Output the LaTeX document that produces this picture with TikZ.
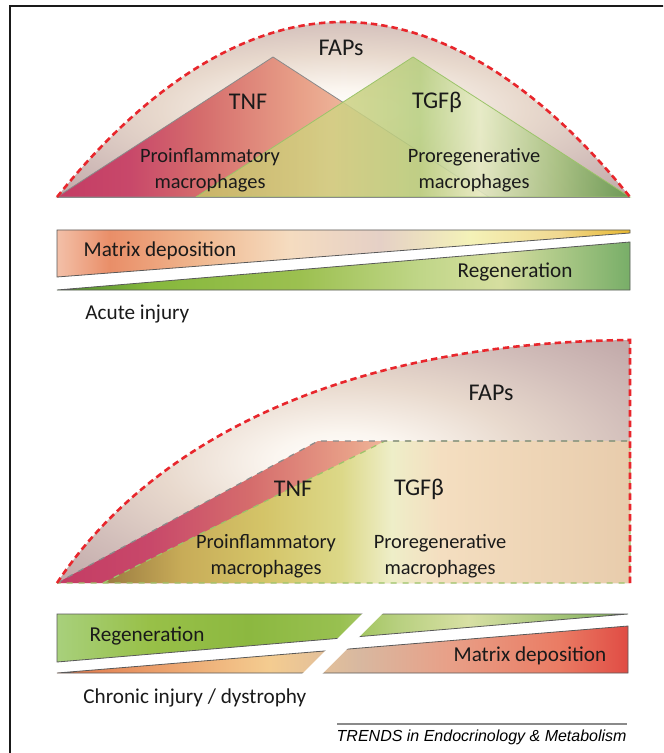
\documentclass[tikz,border=0pt]{standalone}
\usepackage{fontspec}
\setmainfont{Carlito}
\newfontfamily\trendsfont{Liberation Sans}
\usetikzlibrary{calc}
\definecolor{fibred}{HTML}{E8262C}
\definecolor{fibink}{HTML}{1A1A1A}
\definecolor{fibgrey}{HTML}{8A8A8A}
\definecolor{fibgreen}{HTML}{9CC46A}
\definecolor{fibfapdk}{HTML}{C3ABAB}
\definecolor{fibfapmd}{HTML}{D2BEBA}
\definecolor{fibfaplt}{HTML}{E8D9CD}
\definecolor{fibfapwh}{HTML}{FBF6F0}
% TNF
\definecolor{fibtnfa}{HTML}{C43C64}
\definecolor{fibtnfb}{HTML}{C8486A}
\definecolor{fibtnfc}{HTML}{D56C6C}
\definecolor{fibtnfd}{HTML}{E8A088}
\definecolor{fibtnfe}{HTML}{F5CFB0}
\definecolor{fibtnff}{HTML}{F8DCC4}
% TGF beta
\definecolor{fibtgfa}{HTML}{C8C068}
\definecolor{fibtgfb}{HTML}{D2D284}
\definecolor{fibtgfc}{HTML}{B6CE7E}
\definecolor{fibtgfd}{HTML}{E6ECC4}
\definecolor{fibtgfe}{HTML}{A2C07A}
\definecolor{fibtgff}{HTML}{5E9648}
% chronic TGF beta
\definecolor{fibchra}{HTML}{9A7A40}
\definecolor{fibchrb}{HTML}{C8AC58}
\definecolor{fibchrc}{HTML}{D4C468}
\definecolor{fibchrd}{HTML}{DCD888}
\definecolor{fibchre}{HTML}{EEEEC8}
\definecolor{fibchrf}{HTML}{F4DEC0}
\definecolor{fibchrg}{HTML}{E8CCAC}

\pgfdeclareradialshading{fibfapshade}{\pgfpoint{0bp}{0bp}}{%
  color(0bp)=(white); color(6bp)=(fibfapwh); color(16bp)=(fibfaplt);
  color(26bp)=(fibfapmd); color(34bp)=(fibfapdk); color(50bp)=(fibfapdk)}
\pgfdeclarehorizontalshading{fibtnfshade}{100bp}{%
  color(0bp)=(fibtnfa); color(25bp)=(fibtnfa); color(33.4bp)=(fibtnfb);
  color(41.5bp)=(fibtnfc); color(53.1bp)=(fibtnfd); color(64.7bp)=(fibtnfe);
  color(75bp)=(fibtnff); color(100bp)=(fibtnff)}
\pgfdeclarehorizontalshading{fibtgfshade}{100bp}{%
  color(0bp)=(fibtgfa); color(25bp)=(fibtgfa); color(40.4bp)=(fibtgfb);
  color(50.8bp)=(fibtgfc); color(57.7bp)=(fibtgfd); color(66.9bp)=(fibtgfe);
  color(75bp)=(fibtgff); color(100bp)=(fibtgff)}
\pgfdeclarehorizontalshading{fibtnfband}{100bp}{%
  color(0bp)=(fibtnfa); color(25bp)=(fibtnfa); color(33.1bp)=(fibtnfb);
  color(41.8bp)=(fibtnfc); color(50.6bp)=(fibtnfd); color(56.7bp)=(fibtnfe);
  color(75bp)=(fibtnff); color(100bp)=(fibtnff)}
\pgfdeclarehorizontalshading{fibchrshade}{100bp}{%
  color(0bp)=(fibchra); color(25bp)=(fibchra); color(32.5bp)=(fibchrb);
  color(40.1bp)=(fibchrc); color(47.6bp)=(fibchrd); color(52.4bp)=(fibchre);
  color(57.1bp)=(fibchrf); color(75bp)=(fibchrg); color(100bp)=(fibchrg)}
\pgfdeclarehorizontalshading{fibmatacute}{100bp}{%
  rgb(0bp)=(.953,.753,.659); rgb(25bp)=(.953,.753,.659); rgb(29.6bp)=(.914,.557,.408);
  rgb(37.5bp)=(.941,.722,.565); rgb(45.3bp)=(.961,.863,.753); rgb(53.2bp)=(.898,.816,.776);
  rgb(61bp)=(.957,.949,.722); rgb(68.9bp)=(.941,.847,.565); rgb(75bp)=(.910,.722,.188);
  rgb(100bp)=(.910,.722,.188)}
\pgfdeclarehorizontalshading{fibregacute}{100bp}{%
  rgb(0bp)=(.306,.541,.173); rgb(25bp)=(.306,.541,.173); rgb(33.1bp)=(.525,.722,.235);
  rgb(46.2bp)=(.612,.753,.314); rgb(56.7bp)=(.753,.839,.533); rgb(63.7bp)=(.839,.871,.627);
  rgb(75bp)=(.471,.682,.408); rgb(100bp)=(.471,.682,.408)}
\pgfdeclarehorizontalshading{fibregchron}{100bp}{%
  rgb(0bp)=(.659,.816,.486); rgb(25bp)=(.659,.816,.486); rgb(33.1bp)=(.596,.753,.282);
  rgb(41.8bp)=(.549,.722,.251); rgb(49.7bp)=(.596,.753,.314); rgb(54.9bp)=(.722,.816,.502);
  rgb(61bp)=(.847,.878,.643); rgb(68.9bp)=(.643,.769,.471); rgb(75bp)=(.502,.690,.345);
  rgb(100bp)=(.502,.690,.345)}
\pgfdeclarehorizontalshading{fibmatchron}{100bp}{%
  rgb(0bp)=(.878,.455,.282); rgb(25bp)=(.878,.455,.282); rgb(33.1bp)=(.918,.612,.408);
  rgb(43.6bp)=(.957,.800,.565); rgb(51.4bp)=(.847,.722,.627); rgb(59.3bp)=(.910,.627,.533);
  rgb(68.9bp)=(.918,.486,.392); rgb(75bp)=(.878,.298,.267); rgb(100bp)=(.878,.298,.267)}

\tikzset{
  fibdash/.style={draw=fibred, line width=1.3pt, dash pattern=on 3.2pt off 2pt},
  fibtnfedge/.style={draw=fibgrey, line width=0.4pt},
  fibtgfedge/.style={draw=fibgreen, line width=0.4pt},
  fibbar/.style={draw=black!65, line width=0.4pt},
  fibbig/.style={font=\fontsize{12}{14}\selectfont, text=fibink, inner sep=0pt},
  fiblbl/.style={font=\fontsize{10.2}{13}\selectfont, text=fibink, align=center, inner sep=0pt},
  fibbarlbl/.style={font=\fontsize{10.6}{13}\selectfont, text=fibink, inner sep=0pt},
}

\begin{document}
\begin{tikzpicture}[x=0.5pt, y=-0.5pt]
  \useasboundingbox (0,0) rectangle (663,753);
  \clip (0,0) rectangle (663,753);
  \draw[line width=1.1pt, fibink] (10,6) rectangle (720,800);

  % acute injury
  \shade[shading=fibfapshade] (57,197) parabola bend (343,22) (630,197) -- cycle;
  \shade[shading=fibtnfshade, fibtnfedge] (57,197) -- (273,57) -- (489,197) -- cycle;
  \shade[shading=fibtgfshade, fill opacity=0.85, fibtgfedge] (196,197) -- (413,57) -- (630,197) -- cycle;
  \draw[fibgrey, line width=0.4pt] (57,197) -- (630,197);
  \draw[fibdash] (57,197) parabola bend (343,22) (630,197);

  \node[fibbig] (fapa) at (341,48) {FAPs};
  \node[fibbig] (tnfa) at (248,102) {TNF};
  \node[fibbig] (tgfa) at (437,102) {TGFβ};
  \node[fiblbl] (proinfa) at (210,170) {Proinflammatory\\macrophages};
  \node[fiblbl] (prorega) at (474,170) {Proregenerative\\macrophages};

  \shade[shading=fibmatacute, fibbar] (57,230) -- (630,230) -- (630,233) -- (57,277) -- cycle;
  \shade[shading=fibregacute, fibbar] (57,290) -- (630,242) -- (630,290) -- cycle;
  \node[fibbarlbl] (mata) at (160,251) {Matrix deposition};
  \node[fibbarlbl] (rega) at (515,272) {Regeneration};
  \node[fibbarlbl, anchor=west] (acute) at (85,314) {Acute injury};

  % chronic injury
  \shade[shading=fibfapshade] (57,583) .. controls (145,450) and (330,343) .. (630,340) -- (630,583) -- cycle;
  \shade[shading=fibtnfband] (57,583) -- (318,441) -- (630,441) -- (630,583) -- cycle;
  \shade[shading=fibchrshade] (103,583) -- (385,441) -- (630,441) -- (630,583) -- cycle;
  \draw[fibgreen, line width=0.6pt, dashed] (103,583) -- (385,441) -- (630,441) -- (630,583) -- (57,583);
  \draw[fibgrey, line width=0.6pt, dashed] (57,583) -- (318,441) -- (630,441);
  \draw[fibdash] (57,583) .. controls (145,450) and (330,343) .. (630,340) -- (630,583);

  \node[fibbig] (fapc) at (491,393) {FAPs};
  \node[fibbig] (tnfc) at (293,489) {TNF};
  \node[fibbig] (tgfc) at (419,489) {TGFβ};
  \node[fiblbl] (proinfc) at (266,556) {Proinflammatory\\macrophages};
  \node[fiblbl] (proregc) at (440,556) {Proregenerative\\macrophages};

  \shade[shading=fibregchron, fibbar] (57,614) -- (628,614) -- (57,662) -- cycle;
  \shade[shading=fibmatchron, fibbar] (57,673) -- (628,626) -- (628,673) -- cycle;
  \fill[white] (368,608) -- (388,608) -- (316,680) -- (296,680) -- cycle;
  \node[fibbarlbl] (regc) at (147,636) {Regeneration};
  \node[fibbarlbl] (matc) at (530,656) {Matrix deposition};
  \node[fibbarlbl, anchor=west] (chronic) at (83,698) {Chronic injury / dystrophy};

  \draw[fibgrey, line width=0.8pt] (337,724) -- (627,724);
  \node[font=\trendsfont\itshape\fontsize{8}{10}\selectfont, anchor=base east, inner sep=0pt] (trends) at (627,741)
    {TRENDS in Endocrinology \& Metabolism};
\end{tikzpicture}
\end{document}
